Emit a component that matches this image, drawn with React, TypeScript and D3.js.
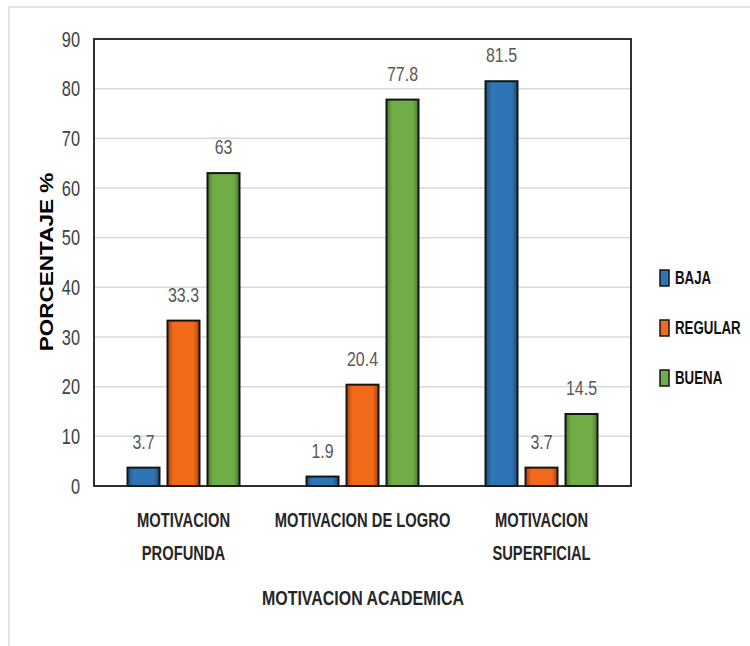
import { useEffect, useRef } from "react";
import * as d3 from "d3";

const categories = ["MOTIVACION PROFUNDA", "MOTIVACION DE LOGRO", "MOTIVACION SUPERFICIAL"];
const categoryLines = [["MOTIVACION", "PROFUNDA"], ["MOTIVACION DE LOGRO"], ["MOTIVACION", "SUPERFICIAL"]];
const seriesNames = ["BAJA", "REGULAR", "BUENA"];
const baja = [3.7, 1.9, 81.5];
const regular = [33.3, 20.4, 3.7];
const buena = [63, 77.8, 14.5];
const yTicks = [0, 10, 20, 30, 40, 50, 60, 70, 80, 90];

const colors = ["#2E75B6", "#F06A1A", "#70AD47"];
const shades = ["#1F4E79", "#A9420A", "#4A7A2C"];
const FONT = "'Liberation Sans', Arial, sans-serif";
const SQUEEZE = 0.76; // the reference is horizontally condensed

export default function App() {
  const svgRef = useRef<SVGSVGElement | null>(null);

  useEffect(() => {
    if (!svgRef.current) return;
    const svg = d3.select(svgRef.current);
    svg.selectAll("*").remove();

    const width = 750;
    const height = 646;
    const left = 94, right = 631, top = 39, bottom = 486;
    const values = [baja, regular, buena];

    // condensed text helper
    const label = (
      parent: d3.Selection<any, any, any, any>,
      x: number,
      y: number,
      text: string,
      size: number,
      opts: { anchor?: string; weight?: string; fill?: string; dy?: string } = {}
    ) =>
      parent.append("g")
        .attr("transform", `translate(${x},${y}) scale(${SQUEEZE},1)`)
        .append("text")
        .attr("text-anchor", opts.anchor ?? "middle")
        .attr("dy", opts.dy ?? "0")
        .attr("font-family", FONT)
        .attr("font-size", size)
        .attr("font-weight", opts.weight ?? "normal")
        .attr("fill", opts.fill ?? "#000")
        .text(text);

    // outer frame
    svg.append("rect")
      .attr("x", 9).attr("y", 7)
      .attr("width", width + 20).attr("height", height + 20)
      .attr("fill", "white").attr("stroke", "#e3e3e3").attr("stroke-width", 2);

    const defs = svg.append("defs");
    colors.forEach((c, i) => {
      const g = defs.append("linearGradient").attr("id", `grad${i}`)
        .attr("x1", "0").attr("x2", "1").attr("y1", "0").attr("y2", "0");
      g.append("stop").attr("offset", "0%").attr("stop-color", shades[i]);
      g.append("stop").attr("offset", "18%").attr("stop-color", c);
      g.append("stop").attr("offset", "82%").attr("stop-color", c);
      g.append("stop").attr("offset", "100%").attr("stop-color", shades[i]);
    });

    const x0 = d3.scaleBand<string>().domain(categories).range([left, right]);
    const x1 = d3.scaleBand<string>().domain(seriesNames)
      .range([0, x0.bandwidth()]).paddingInner(0.2).paddingOuter(0.8375);
    const y = d3.scaleLinear().domain([0, 90]).range([bottom, top]);

    // gridlines
    svg.append("g").selectAll("line").data(yTicks.slice(1, -1)).enter().append("line")
      .attr("x1", left).attr("x2", right)
      .attr("y1", (d) => y(d)).attr("y2", (d) => y(d))
      .attr("stroke", "#d9d9d9").attr("stroke-width", 1.5);

    // y tick labels
    const tickG = svg.append("g");
    yTicks.forEach((t) => {
      label(tickG, left - 14, y(t), String(t), 21.5, { anchor: "end", fill: "#404040", dy: "0.35em" });
    });

    // bars
    seriesNames.forEach((s, si) => {
      const g = svg.append("g");
      g.selectAll("rect").data(values[si]).enter().append("rect")
        .attr("x", (_, i) => (x0(categories[i]) ?? 0) + (x1(s) ?? 0))
        .attr("y", (d) => y(d))
        .attr("width", x1.bandwidth())
        .attr("height", (d) => bottom - y(d))
        .attr("fill", `url(#grad${si})`)
        .attr("stroke", "#151515").attr("stroke-width", 2);
      values[si].forEach((v, i) => {
        const cx = (x0(categories[i]) ?? 0) + (x1(s) ?? 0) + x1.bandwidth() / 2;
        label(g, cx, y(v) - 19, String(v), 21, { fill: "#595959" });
      });
    });

    // plot border
    svg.append("rect")
      .attr("x", left).attr("y", top)
      .attr("width", right - left).attr("height", bottom - top)
      .attr("fill", "none").attr("stroke", "#1a1a1a").attr("stroke-width", 1.8);

    // category labels
    categories.forEach((c, i) => {
      const cx = (x0(c) ?? 0) + x0.bandwidth() / 2;
      categoryLines[i].forEach((line, li) => {
        label(svg, cx, 527 + li * 33, line, 19.4, { weight: "bold", fill: "#262626" });
      });
    });

    // axis titles
    label(svg, 363, 604.5, "MOTIVACION ACADEMICA", 21, { weight: "bold", fill: "#262626" });

    svg.append("g")
      .attr("transform", `translate(53, 262) rotate(-90) scale(1, 0.82)`)
      .append("text")
      .attr("text-anchor", "middle")
      .attr("font-family", FONT)
      .attr("font-size", 22.5).attr("font-weight", "bold").attr("fill", "#000")
      .text("PORCENTAJE %");

    // legend
    const legend = svg.append("g");
    seriesNames.forEach((s, i) => {
      const ly = 278 + i * 50;
      legend.append("rect")
        .attr("x", 660).attr("y", ly - 8).attr("width", 9).attr("height", 16)
        .attr("fill", colors[i]).attr("stroke", "#151515").attr("stroke-width", 1.5);
      label(legend, 675, ly, s, 17.5, { anchor: "start", weight: "bold", fill: "#111", dy: "0.35em" });
    });
  }, []);

  return (
    <svg
      ref={svgRef}
      width={750}
      height={646}
      style={{ position: "fixed", top: 0, left: 0, display: "block", background: "white" }}
    />
  );
}
